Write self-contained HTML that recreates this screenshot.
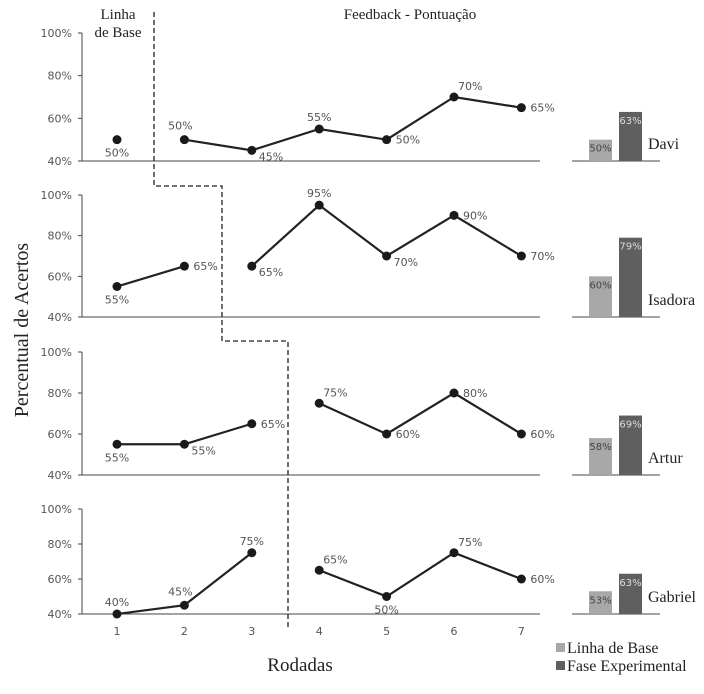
<!DOCTYPE html>
<html><head><meta charset="utf-8"><style>
body{margin:0;background:#fff;width:704px;height:689px;overflow:hidden}
svg text{font-family:"DejaVu Sans",sans-serif}
.serif{font-family:"Liberation Serif",serif}
</style></head><body>
<svg id="c" width="704" height="689"></svg>
<script>
const rounds=[1,2,3,4,5,6,7];
const names=["Davi","Isadora","Artur","Gabriel"];
const davi=[50,50,45,55,50,70,65];
const isadora=[55,65,65,95,70,90,70];
const artur=[55,55,65,75,60,80,60];
const gabriel=[40,45,75,65,50,75,60];
const phaseStart=[2,3,4,4];
const barBase=[50,60,58,53];
const barExp=[63,79,69,63];
const yTicks=[40,60,80,100];
const series=[davi,isadora,artur,gabriel];
const labelPos=[["b","al","rb","a","r","ar","r"],["b","r","rb","a","rb","r","r"],["b","rb","r","ar","r","r","r"],["a","al","a","ar","b","ar","r"]];
const panels=[{top:33,bot:161},{top:195,bot:317},{top:352,bot:475},{top:509,bot:614}];
const NS="http://www.w3.org/2000/svg",svg=document.getElementById('c');
function el(t,a,txt){const e=document.createElementNS(NS,t);for(const k in a)e.setAttribute(k,a[k]);if(txt!==undefined)e.textContent=txt;svg.appendChild(e);return e;}
const x=r=>117+(r-1)*67.4;
panels.forEach((p,i)=>{
 const y=v=>p.bot-(v-40)/60*(p.bot-p.top);
 let ax=el('path',{d:`M82 ${p.top}V${p.bot}H540`,stroke:'#444',fill:'none','stroke-width':1});
 
 yTicks.forEach(t=>{el('line',{x1:78,x2:82,y1:y(t),y2:y(t),stroke:'#444'});
  let tl=el('text',{x:72,y:y(t)+4,'text-anchor':'end','font-size':11,fill:'#555'},t+'%');
  });
 const d=series[i];const ps=phaseStart[i];
 [[1,ps-1],[ps,7]].forEach(([a,b])=>{if(b>a){let s='';for(let r=a;r<=b;r++)s+=(r==a?'M':'L')+x(r)+' '+y(d[r-1]);
  let l=el('path',{d:s,stroke:'#222',fill:'none','stroke-width':2.2});}});
 d.forEach((v,j)=>{const cx=x(j+1),cy=y(v);
  let c=el('circle',{cx:cx,cy:cy,r:4.5,fill:'#1a1a1a'});
  const lp=labelPos[i][j];let lx=cx,ly=cy,an='middle';
  if(lp=='b'){ly=cy+17;}else if(lp=='a'){ly=cy-8;}else if(lp=='r'){lx=cx+9;ly=cy+4;an='start';}
  else if(lp=='rb'){lx=cx+7;ly=cy+10;an='start';}else if(lp=='ar'){lx=cx+4;ly=cy-7;an='start';}else if(lp=='al'){lx=cx-4;ly=cy-10;}
  let t=el('text',{x:lx,y:ly,'text-anchor':an,'font-size':11,fill:'#555'},v+'%');});
 el('line',{x1:572,x2:660,y1:p.bot,y2:p.bot,stroke:'#444'});
 [[barBase[i],589,'#a8a8a8'],[barExp[i],619,'#5f5f5f']].forEach(([v,bx,col],k)=>{
  let b=el('rect',{x:bx,y:y(v),width:23,height:p.bot-y(v),fill:col});
  let bl=el('text',{x:bx+11.5,y:y(v)+12,'text-anchor':'middle','font-size':10,fill:k?'#ddd':'#444'},Math.round(v)+'%');});
 let nm=el('text',{x:648,y:p.bot-12,'font-size':16,fill:'#222',class:'serif'},names[i]);
});
rounds.forEach(r=>{let t=el('text',{x:x(r),y:635,'text-anchor':'middle','font-size':11,fill:'#555'},r);});
let dl=el('path',{d:'M154 12V186H222V341H288V628',stroke:'#222',fill:'none','stroke-width':1.3,'stroke-dasharray':'5,3'});
const T=(tx,a,n)=>{let t=el('text',Object.assign({class:'serif',fill:'#222'},a),tx);};
T('Linha',{x:118,y:19,'text-anchor':'middle','font-size':15},'phase-title-baseline');
T('de Base',{x:118,y:37,'text-anchor':'middle','font-size':15},'phase-title-baseline-2');
T('Feedback - Pontuação',{x:410,y:19,'text-anchor':'middle','font-size':15},'phase-title-feedback');
T('Rodadas',{x:300,y:671,'text-anchor':'middle','font-size':19},'x-axis-title');
T('Percentual de Acertos',{x:0,y:0,'text-anchor':'middle','font-size':20,transform:'translate(28,330) rotate(-90)'},'y-axis-title');
el('rect',{x:556,y:643,width:9,height:9,fill:'#a8a8a8'});
el('rect',{x:556,y:661,width:9,height:9,fill:'#5f5f5f'});
T('Linha de Base',{x:567,y:653,'font-size':16},'legend-entry-baseline');
T('Fase Experimental',{x:567,y:671,'font-size':16},'legend-entry-experimental');
</script></body></html>
